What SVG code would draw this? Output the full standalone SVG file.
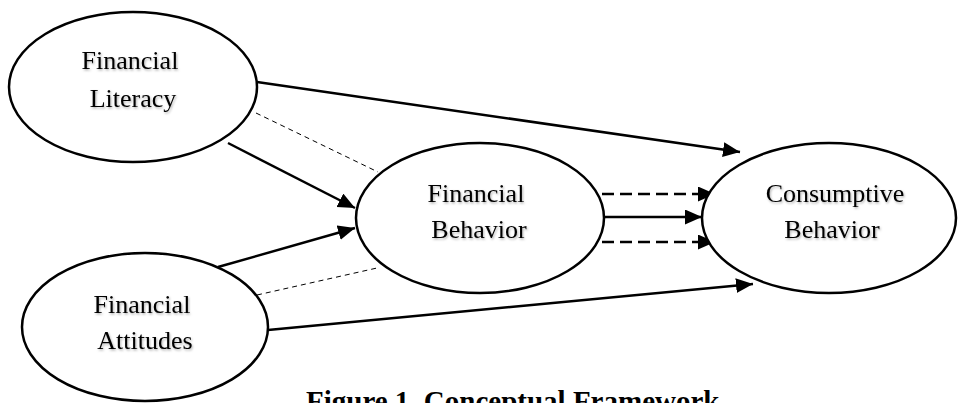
<svg xmlns="http://www.w3.org/2000/svg" width="958" height="403" viewBox="0 0 958 403">
<defs>
<marker id="ah" markerUnits="userSpaceOnUse" markerWidth="18" markerHeight="16" refX="17" refY="7.5" orient="auto">
<path d="M0,0 L17,7.5 L0,15 z" fill="#000"/>
</marker>
<filter id="sh" x="-10%" y="-20%" width="130%" height="150%">
<feDropShadow dx="1" dy="1.5" stdDeviation="1" flood-color="#000" flood-opacity="0.3"/>
</filter>
</defs>
<style>
.node ellipse{fill:#fff;stroke:#000;stroke-width:2.5}
.lbl{font-family:"Liberation Serif","Times New Roman",serif;font-size:26px;fill:#000;text-anchor:middle;filter:url(#sh)}
.solid{stroke:#000;stroke-width:2.5;fill:none}
.thick-dash{stroke:#000;stroke-width:2.5;fill:none;stroke-dasharray:12 6}
.thin-dash{stroke:#000;stroke-width:1;fill:none;stroke-dasharray:5 4}
.cap{font-family:"Liberation Serif","Times New Roman",serif;font-size:29px;font-weight:bold;fill:#000}
</style>
<rect width="958" height="403" fill="#fff"/>
<g id="connectors">
<line class="solid" x1="257" y1="82" x2="740" y2="152" marker-end="url(#ah)"/>
<line class="solid" x1="228" y1="143" x2="355" y2="208" marker-end="url(#ah)"/>
<line class="thin-dash" x1="256" y1="113" x2="378" y2="172"/>
<line class="solid" x1="218" y1="267" x2="355" y2="228" marker-end="url(#ah)"/>
<line class="thin-dash" x1="257" y1="295" x2="377" y2="268"/>
<line class="solid" x1="268" y1="330" x2="753" y2="284" marker-end="url(#ah)"/>
<line class="thick-dash" x1="602" y1="194" x2="715" y2="194" marker-end="url(#ah)"/>
<line class="solid" x1="603" y1="217" x2="702" y2="217" marker-end="url(#ah)"/>
<line class="thick-dash" x1="602" y1="242" x2="715" y2="242" marker-end="url(#ah)"/>
</g>
<g id="financial-literacy" class="node">
<ellipse cx="133" cy="87" rx="124" ry="75"/>
<text class="lbl" x="130" y="69">Financial</text>
<text class="lbl" x="133" y="107">Literacy</text>
</g>
<g id="financial-attitudes" class="node">
<ellipse cx="145" cy="327" rx="123" ry="74"/>
<text class="lbl" x="142" y="313">Financial</text>
<text class="lbl" x="145" y="349">Attitudes</text>
</g>
<g id="financial-behavior" class="node">
<ellipse cx="480" cy="218" rx="124" ry="75"/>
<text class="lbl" x="476" y="202">Financial</text>
<text class="lbl" x="479" y="238">Behavior</text>
</g>
<g id="consumptive-behavior" class="node">
<ellipse cx="829" cy="218" rx="127" ry="75"/>
<text class="lbl" x="835" y="202">Consumptive</text>
<text class="lbl" x="832" y="238">Behavior</text>
</g>
<text class="cap" x="306" y="411">Figure 1.  Conceptual Framework</text>
</svg>
